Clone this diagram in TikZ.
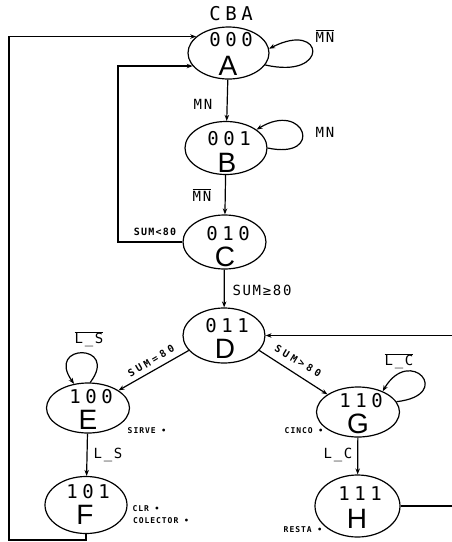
\documentclass[tikz,border=0pt]{standalone}
\usepackage{fontspec}
\usetikzlibrary{arrows.meta,shapes.geometric}
\newfontfamily\digf[LetterSpace=24]{DejaVu Sans Mono}
\newfontfamily\labf[LetterSpace=12]{DejaVu Sans Mono}
\newfontfamily\rotf[LetterSpace=32]{DejaVu Sans Mono}
\newfontfamily\letf{Liberation Sans}
\begin{document}
\begin{tikzpicture}[x=1pt,y=-1pt,
  st/.style={draw, ellipse, line width=1.2pt, inner sep=0pt},
  wire/.style={line width=1.2pt},
  arr/.style={wire, -{Stealth[length=6pt,width=4.5pt]}},
  dig/.style={font=\digf\fontsize{19}{19}\selectfont, inner sep=0pt},
  let/.style={font=\letf\fontsize{28}{28}\selectfont, inner sep=0pt},
  lab/.style={font=\labf\fontsize{14}{14}\selectfont, inner sep=0pt},
  sml/.style={font=\labf\bfseries\fontsize{8}{8}\selectfont, inner sep=0pt},
  rot/.style={font=\rotf\bfseries\fontsize{10}{10}\selectfont, inner sep=0pt}
]
\useasboundingbox (0,0) rectangle (452,542);
\fill[white] (0,0) rectangle (452,542);

% states
\node[st, minimum width=81pt, minimum height=52pt] (A) at (228.5,53) {};
\node[st, minimum width=82pt, minimum height=53pt] (B) at (226,148) {};
\node[st, minimum width=83pt, minimum height=54pt] (C) at (224.5,242) {};
\node[st, minimum width=82pt, minimum height=55pt] (D) at (224,335.5) {};
\node[st, minimum width=83pt, minimum height=50pt] (E) at (88,408) {};
\node[st, minimum width=82pt, minimum height=57pt] (F) at (86,505) {};
\node[st, minimum width=83pt, minimum height=50pt] (G) at (358,412) {};
\node[st, minimum width=85pt, minimum height=62pt] (H) at (357.5,506) {};

\node[dig] (cba) at (231,14) {CBA};
\node[dig] (Ad) at (231,40) {000};
\node[let] (Al) at (228,66) {A};
\node[dig] (Bd) at (229,139) {001};
\node[let] (Bl) at (227,163) {B};
\node[dig] (Cd) at (228,234) {010};
\node[let] (Cl) at (225,257) {C};
\node[dig] (Dd) at (227,326) {011};
\node[let] (Dl) at (225,349) {D};
\node[dig] (Ed) at (91,397) {100};
\node[let] (El) at (88,420) {E};
\node[dig] (Fd) at (88,492) {101};
\node[let] (Fl) at (85,515) {F};
\node[dig] (Gd) at (361,401) {110};
\node[let] (Gl) at (358,424) {G};
\node[dig] (Hd) at (360,494) {111};
\node[let] (Hl) at (357,519) {H};

% main chain
\draw[arr] (A) -- (B);
\draw[arr] (B) -- (C);
\draw[arr] (C) -- (D);
\draw[arr] (D.203) -- (E.30);
\draw[arr] (D.-23) -- (G.150);
\draw[arr] (E) -- (F);
\draw[arr] (G) -- (H);

% self loops
\draw[arr] (A.-18) .. controls (330,80) and (325,20) .. (A.6);
\draw[arr] (B.0) .. controls (325,160) and (305,100) .. (B.31);
\draw[arr] (E.85) .. controls (120,343) and (45,343) .. (E.120);
\draw[arr] (G.15) .. controls (455,395) and (410,345) .. (G.40);

% return paths
\coordinate (BL) at (9,540);
\coordinate (IL) at (118,0);
\coordinate (RE) at (452,0);
\draw[arr] (F.south) |- (BL) |- (A.153);
\draw[arr] (C.west) -- (C.west -| IL) |- (A.200);
\draw[arr] (D.east -| RE) -- (D.east);
\draw[wire] (H.east) -- (H.east -| RE);

% transition labels
\node[lab] (l1) at (203,104) {MN};
\node[lab] (l2) at (202,195) {$\overline{\hbox{MN}}$};
\node[lab] (l3) at (262,290) {SUM≥80};
\node[lab] (l4) at (325,36) {$\overline{\hbox{MN}}$};
\node[lab] (l5) at (325,132) {MN};
\node[lab] (l6) at (108,455) {L\_S};
\node[lab] (l7) at (338,455) {L\_C};
\node[lab] (l8) at (89,339) {$\overline{\hbox{L\_S}}$};
\node[lab] (l9) at (399,361) {$\overline{\hbox{L\_C}}$};
\node[sml, font=\labf\bfseries\fontsize{10}{10}\selectfont] (l10) at (155,232) {SUM<80};
\node[rot, rotate=31] (l11) at (151,361) {SUM=80};
\node[rot, rotate=-31] (l12) at (298,361) {SUM>80};

% outputs
\node[sml] (o1) at (147,431) {SIRVE •};
\node[sml] (o2) at (304,431) {CINCO •};
\node[sml] (o3) at (146,509) {CLR •};
\node[sml] (o4) at (161,521) {COLECTOR •};
\node[sml] (o5) at (303,530) {RESTA •};
\end{tikzpicture}
\end{document}
